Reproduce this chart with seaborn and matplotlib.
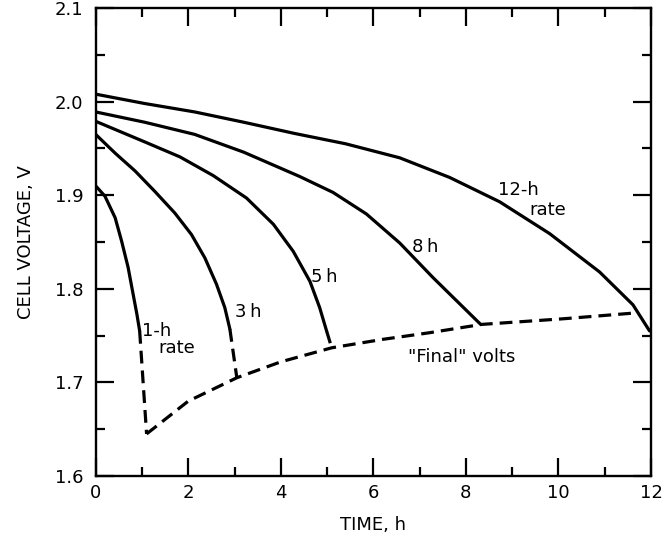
import numpy as np
import pandas as pd
import matplotlib
matplotlib.use("Agg")
import matplotlib.pyplot as plt
from matplotlib.ticker import MultipleLocator, FormatStrFormatter
import seaborn as sns

# ============= Data =============
# solid part of each discharge curve (time in h, cell voltage in V)
t_12h = [0.0, 1.06, 2.14, 3.2, 4.3, 5.4, 6.57, 7.65, 8.73, 9.81, 10.89, 11.61, 11.97]
v_12h = [2.008, 1.998, 1.989, 1.978, 1.966, 1.955, 1.940, 1.919, 1.893, 1.859, 1.818, 1.783, 1.755]

t_8h = [0.0, 1.06, 2.14, 3.2, 4.41, 5.13, 5.85, 6.57, 7.29, 8.32]
v_8h = [1.989, 1.978, 1.965, 1.946, 1.920, 1.903, 1.880, 1.849, 1.812, 1.762]

t_5h = [0.0, 1.06, 1.82, 2.54, 3.26, 3.84, 4.27, 4.63, 4.84, 4.99]
v_5h = [1.979, 1.957, 1.941, 1.921, 1.897, 1.869, 1.840, 1.808, 1.780, 1.755]

t_3h = [0.0, 0.42, 0.85, 1.28, 1.71, 2.07, 2.36, 2.61, 2.79, 2.90]
v_3h = [1.965, 1.945, 1.926, 1.904, 1.881, 1.858, 1.833, 1.805, 1.780, 1.757]

t_1h = [0.0, 0.20, 0.42, 0.56, 0.70, 0.81, 0.89, 0.95]
v_1h = [1.910, 1.899, 1.876, 1.851, 1.823, 1.794, 1.773, 1.755]

# dashed drop at the end of the short-rate curves
tail_t_1h = [0.95, 1.1]
tail_v_1h = [1.755, 1.645]
tail_t_3h = [2.90, 3.05]
tail_v_3h = [1.757, 1.705]
tail_t_5h = [4.99, 5.1]
tail_v_5h = [1.755, 1.737]

# "final" volts envelope
final_t = [1.1, 2.0, 3.05, 4.0, 5.1, 6.2, 7.2, 8.34, 10.1, 11.6]
final_v = [1.645, 1.680, 1.705, 1.722, 1.737, 1.746, 1.753, 1.762, 1.768, 1.774]

x_ticks = [0, 2, 4, 6, 8, 10, 12]
y_ticks = [1.6, 1.7, 1.8, 1.9, 2.0, 2.1]

# ============= Style =============
sns.set_style("ticks")
plt.rcParams["font.family"] = ["DejaVu Sans"]
plt.rcParams["text.color"] = "black"
plt.rcParams["axes.labelcolor"] = "black"

fig = plt.figure(figsize=(6.72, 5.41), dpi=100)
ax = fig.add_axes([0.1424, 0.1201, 0.8263, 0.865])

lw = 2.3
dash = (0, (4, 2.2))

solid_curves = [(t_12h, v_12h), (t_8h, v_8h), (t_5h, v_5h), (t_3h, v_3h), (t_1h, v_1h)]
for t, v in solid_curves:
    sns.lineplot(x=t, y=v, ax=ax, color="black", lw=lw, sort=False, estimator=None)

for t, v in [(tail_t_1h, tail_v_1h), (tail_t_3h, tail_v_3h), (tail_t_5h, tail_v_5h)]:
    sns.lineplot(x=t, y=v, ax=ax, color="black", lw=lw, sort=False,
                 estimator=None, linestyle=dash)

sns.lineplot(x=final_t, y=final_v, ax=ax, color="black", lw=lw, sort=False,
             estimator=None, linestyle=dash)

# curve labels
fs = 13
ax.text(9.14, 1.906, "12-h", fontsize=fs, ha="center", va="center")
ax.text(9.77, 1.884, "rate", fontsize=fs, ha="center", va="center")
ax.text(7.13, 1.845, "8\u2009h", fontsize=fs, ha="center", va="center")
ax.text(4.95, 1.813, "5\u2009h", fontsize=fs, ha="center", va="center")
ax.text(3.29, 1.775, "3\u2009h", fontsize=fs, ha="center", va="center")
ax.text(1.32, 1.755, "1-h", fontsize=fs, ha="center", va="center")
ax.text(1.76, 1.737, "rate", fontsize=fs, ha="center", va="center")
ax.text(7.91, 1.727, '"Final" volts', fontsize=fs, ha="center", va="center")

# ============= Axes =============
ax.set_xlim(0, 12)
ax.set_ylim(1.6, 2.1)
ax.set_xticks(x_ticks)
ax.set_yticks(y_ticks)
ax.xaxis.set_minor_locator(MultipleLocator(1))
ax.yaxis.set_minor_locator(MultipleLocator(0.05))
ax.yaxis.set_major_formatter(FormatStrFormatter("%.1f"))
ax.tick_params(which="both", direction="in", top=True, right=True,
               width=1.6, colors="black", labelcolor="black", labelsize=13)
ax.tick_params(which="major", length=13)
ax.tick_params(which="minor", length=6.5)
ax.tick_params(axis="x", pad=6)
ax.tick_params(axis="y", pad=9)
for s in ax.spines.values():
    s.set_linewidth(1.7)
    s.set_color("black")

ax.set_xlabel("TIME, h", fontsize=13, labelpad=10, color="black")
ax.set_ylabel("CELL VOLTAGE, V", fontsize=13, labelpad=14, color="black")

fig.savefig("out.png", dpi=100)
